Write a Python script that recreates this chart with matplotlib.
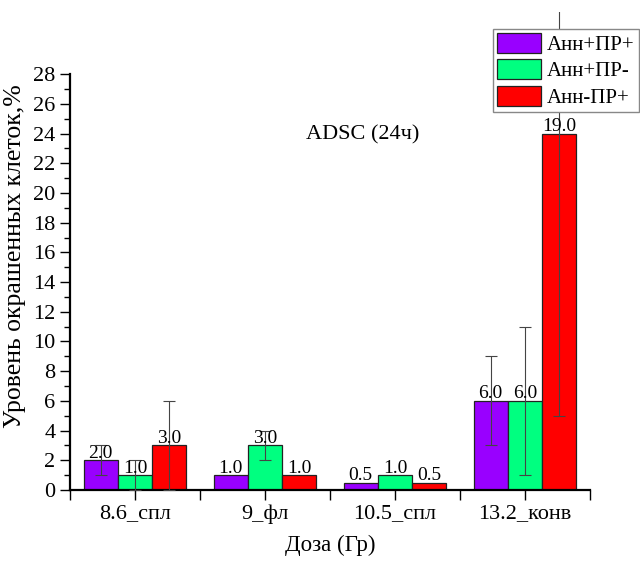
import numpy as np
import matplotlib
matplotlib.use('Agg')
import matplotlib.pyplot as plt
from matplotlib.ticker import MultipleLocator, FixedLocator
from matplotlib.transforms import Bbox, TransformedBbox

# Dados do gráfico
doses = ['8.6_спл', '9_фл', '10.5_спл', '13.2_конв']
series = ['Анн+ПР+', 'Анн+ПР-', 'Анн-ПР+']
ann_pr_pos = [2.0, 1.0, 0.5, 6.0]
ann_pr_neg = [1.0, 3.0, 1.0, 6.0]
ann_neg_pr = [3.0, 1.0, 0.5, 24.0]
err_pr_pos = [1.0, 0.0, 0.0, 3.0]
err_pr_neg = [1.0, 1.0, 0.0, 5.0]
err_neg_pr = [3.0, 0.0, 0.0, 19.0]
rotulos_pr_pos = ['2.0', '1.0', '0.5', '6.0']
rotulos_pr_neg = ['1.0', '3.0', '1.0', '6.0']
rotulos_neg_pr = ['3.0', '1.0', '0.5', '19.0']
cores = ['#9900FF', '#00FF80', '#FF0000']

plt.rcParams['font.family'] = ['Liberation Serif', 'DejaVu Serif']

fig = plt.figure(figsize=(6.4, 5.62), dpi=100)
ax = fig.add_axes([0.1094, 0.1281, 0.8125, 0.740])

# recorte das barras de erro um pouco abaixo do topo da figura
recorte = TransformedBbox(Bbox([[0, 0], [1, 1 - 12 / 562]]), fig.transFigure)

x = np.arange(len(doses))
largura = 0.264
valores = [ann_pr_pos, ann_pr_neg, ann_neg_pr]
erros = [err_pr_pos, err_pr_neg, err_neg_pr]
rotulos = [rotulos_pr_pos, rotulos_pr_neg, rotulos_neg_pr]

for i in range(3):
    pos = x + (i - 1) * largura
    ax.bar(pos, valores[i], width=largura, color=cores[i], edgecolor='#222222',
           linewidth=0.9, label=series[i], zorder=2)
    for j in range(len(doses)):
        if erros[i][j] > 0:
            eb = ax.errorbar(pos[j], valores[i][j], yerr=erros[i][j], fmt='none',
                             ecolor='#444444', elinewidth=0.8, capsize=4, capthick=0.8,
                             zorder=3)
            for art in eb.lines[1] + eb.lines[2]:
                art.set_clip_box(recorte)
        ax.text(pos[j], valores[i][j] - 0.1, rotulos[i][j], ha='center', va='bottom',
                fontsize=14, zorder=4)

ax.set_xlim(-0.5, 3.5)
ax.set_ylim(0, 28)
ax.yaxis.set_major_locator(MultipleLocator(2))
ax.yaxis.set_minor_locator(MultipleLocator(1))
ax.set_xticks(x)
ax.set_xticklabels(doses)
ax.xaxis.set_minor_locator(FixedLocator([-0.5, 0.5, 1.5, 2.5, 3.5]))
ax.tick_params(axis='both', which='major', labelsize=16, direction='out', length=7, width=1)
ax.tick_params(axis='both', which='minor', direction='out', length=4, width=1)
ax.tick_params(axis='x', which='minor', length=7)
for lado in ['top', 'right']:
    ax.spines[lado].set_visible(False)
for lado in ['left', 'bottom']:
    ax.spines[lado].set_linewidth(1.6)

ax.set_xlabel('Доза (Гр)', fontsize=16.5, labelpad=8)
ax.set_ylabel('Уровень окрашенных клеток,%', fontsize=18.5)
ax.yaxis.set_label_coords(-0.085, 0.5625)
ax.text(1.75, 23.9, 'ADSC (24ч)', fontsize=16, ha='center', va='center')

leg = ax.legend(loc='upper left', bbox_to_anchor=(493 / 640, 1 - 29 / 562),
                bbox_transform=fig.transFigure, fontsize=15,
                frameon=True, fancybox=False, edgecolor='#888888', framealpha=1,
                handlelength=2.1, handleheight=1.1, borderpad=0.2, labelspacing=0.2,
                handletextpad=0.3, borderaxespad=0)
leg.get_frame().set_linewidth(1.0)

fig.savefig('out.png', dpi=100)
